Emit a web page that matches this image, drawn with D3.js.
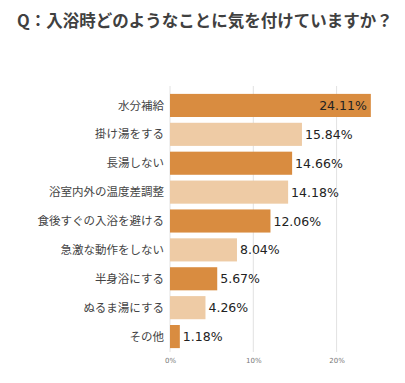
<!DOCTYPE html>
<html><head><meta charset="utf-8">
<script src="https://cdn.jsdelivr.net/npm/d3@7"></script>
<style>body{margin:0;background:#fff;}svg{display:block;}</style>
</head><body>
<svg id="c" width="405" height="383"></svg>
<script>
const categories = ["水分補給","掛け湯をする","長湯しない","浴室内外の温度差調整","食後すぐの入浴を避ける","急激な動作をしない","半身浴にする","ぬるま湯にする","その他"];
const values = [24.11,15.84,14.66,14.18,12.06,8.04,5.67,4.26,1.18];
const tickValues = [0,10,20];
const title = "Q：入浴時どのようなことに気を付けていますか？";
const colors = ["#d98c40","#eecba5"];

const svg = d3.select("#c");
const font = "'Noto Sans CJK JP', sans-serif";
svg.append("text").attr("x",17).attr("y",27).attr("font-family",font).attr("font-weight","bold")
  .attr("font-size",16.5).attr("fill","#404040").text(title);

const x = d3.scaleLinear().domain([0,10]).range([170,253.3]);
const y = d3.scaleBand().domain(categories).range([91,351]).paddingInner(0.2).paddingOuter(0.1);

const g = svg.append("g");
g.selectAll("line.grid").data(tickValues).join("line").attr("class","grid")
  .attr("x1",d=>x(d)).attr("x2",d=>x(d)).attr("y1",86).attr("y2",352)
  .attr("stroke","#e2e2e2").attr("stroke-width",1);

const ax = svg.append("g").attr("transform","translate(0,352)")
  .call(d3.axisBottom(x).tickValues(tickValues).tickFormat(d=>d+"%").tickSize(0).tickPadding(6));
ax.select(".domain").remove();
ax.selectAll("text").attr("font-family","'DejaVu Sans', sans-serif").attr("font-size",7).attr("fill","#777");

g.selectAll("rect").data(values).join("rect")
  .attr("x",x(0)).attr("y",(d,i)=>y(categories[i]))
  .attr("width",d=>x(d)-x(0)).attr("height",y.bandwidth())
  .attr("fill",(d,i)=>colors[i%2]);

g.selectAll("text.cat").data(categories).join("text").attr("class","cat")
  .attr("x",164).attr("y",d=>y(d)+y.bandwidth()/2).attr("dy","0.36em")
  .attr("text-anchor","end").attr("font-family",font).attr("font-size",11.5).attr("fill","#444").text(d=>d);

g.selectAll("text.val").data(values).join("text").attr("class","val")
  .attr("x",(d,i)=> i===0 ? x(d)-4 : x(d)+3)
  .attr("text-anchor",(d,i)=> i===0 ? "end" : "start")
  .attr("y",(d,i)=>y(categories[i])+y.bandwidth()/2).attr("dy","0.36em")
  .attr("font-family","'DejaVu Sans', sans-serif").attr("font-size",12.5).attr("fill","#222")
  .text(d=>d.toFixed(2)+"%");
</script>
</body></html>
